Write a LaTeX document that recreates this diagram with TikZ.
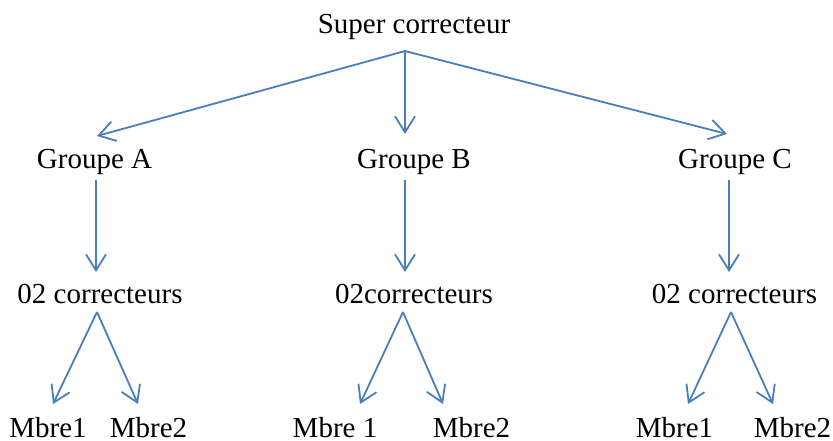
\documentclass[tikz,border=0pt]{standalone}
\usepackage{fontspec}
\setmainfont{Liberation Serif}
\usepackage{tikz}
\usetikzlibrary{arrows.meta,positioning,calc}
\definecolor{orgBlue}{HTML}{4A7EBB}
\definecolor{orgText}{HTML}{000000}

\begin{document}
\begin{tikzpicture}[
  x=0.5pt, y=-0.5pt,
  lbl/.style = {anchor=base, inner sep=0pt, text=orgText,
                font=\fontsize{14.5}{17}\selectfont},
  arr/.style = {-{Straight Barb[length=8pt,width=10pt]},
                line width=0.9pt, draw=orgBlue},
]
\useasboundingbox (0,0) rectangle (833,440);

%── Level 0: super correcteur ─────────────────────────────────────────────────
\node[lbl] (sup) at (414,33) {Super correcteur};
\coordinate (supO) at (405,51);

%── Level 1: groupes ──────────────────────────────────────────────────────────
\node[lbl] (ga) at (94.5,168) {Groupe A};
\node[lbl] (gb) at (414,168)  {Groupe B};
\node[lbl] (gc) at (735,168)  {Groupe C};
\coordinate (gaI) at (97,136);  \coordinate (gaO) at (96,180);
\coordinate (gbI) at (405,134); \coordinate (gbO) at (405,180);
\coordinate (gcI) at (727,134); \coordinate (gcO) at (729,180);

%── Level 2: correcteurs ──────────────────────────────────────────────────────
\node[lbl] (ca) at (100,303) {02 correcteurs};
\node[lbl] (cb) at (414,303) {02correcteurs};
\node[lbl] (cc) at (734.5,303) {02 correcteurs};
\coordinate (caI) at (96,272);  \coordinate (caO) at (97,312);
\coordinate (cbI) at (405,272); \coordinate (cbO) at (403,312);
\coordinate (ccI) at (729,272); \coordinate (ccO) at (731,312);

%── Level 3: membres ──────────────────────────────────────────────────────────
\node[lbl] (ma1) at (48,437)    {Mbre1};
\node[lbl] (ma2) at (148.5,437) {Mbre2};
\node[lbl] (mb1) at (335,437)   {Mbre 1};
\node[lbl] (mb2) at (471.5,437) {Mbre2};
\node[lbl] (mc1) at (674.5,437) {Mbre1};
\node[lbl] (mc2) at (792.5,437) {Mbre2};
\coordinate (ma1I) at (53,404);  \coordinate (ma2I) at (138,404);
\coordinate (mb1I) at (360,404); \coordinate (mb2I) at (443,404);
\coordinate (mc1I) at (688,404); \coordinate (mc2I) at (773,404);

%── Connectors ────────────────────────────────────────────────────────────────
\foreach \g in {ga,gb,gc}
  \draw[arr] (supO) -- (\g I);
\foreach \g/\c in {ga/ca,gb/cb,gc/cc}
  \draw[arr] (\g O) -- (\c I);
\foreach \c/\m in {ca/ma,cb/mb,cc/mc}{
  \draw[arr] (\c O) -- (\m 1I);
  \draw[arr] (\c O) -- (\m 2I);
}
\end{tikzpicture}
\end{document}
